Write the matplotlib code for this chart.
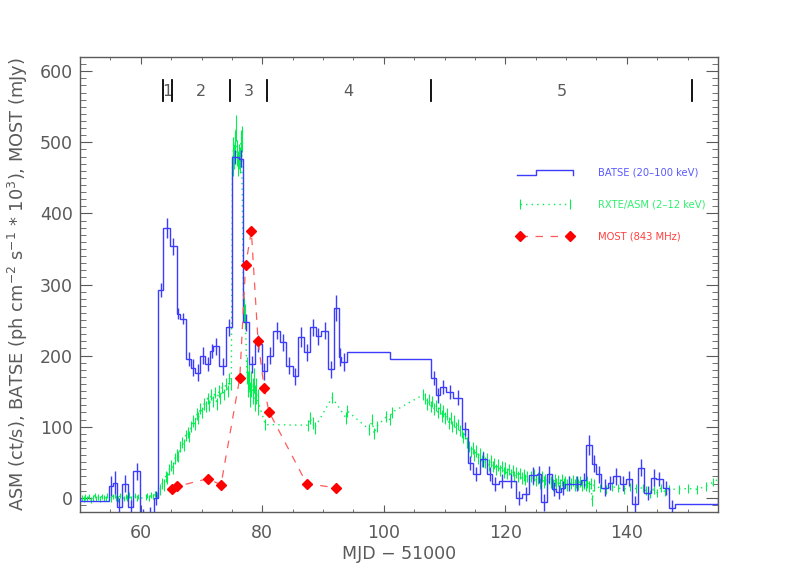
import numpy as np
import matplotlib
matplotlib.use("Agg")
import matplotlib.pyplot as plt
from matplotlib.lines import Line2D
from matplotlib.legend_handler import HandlerBase

# ----------------------------
# Data
# ----------------------------
# BATSE (20-100 keV) histogram: bin edges (MJD-51000), flux, 1-sigma error
batse_edges = [50.0, 54.8, 55.5, 56.1, 56.9, 57.95, 58.8, 59.9, 61.0, 62.2, 62.9,
               63.7, 64.8, 65.9, 66.5, 67.5, 68.3, 69.0, 69.8, 70.6, 71.4, 71.9,
               72.9, 74.1, 74.95, 76.2, 76.9, 77.8, 78.8, 79.9, 80.8, 81.8, 82.9,
               83.9, 85.0, 85.9, 86.9, 87.9, 88.8, 89.7, 90.8, 91.8, 92.6, 93.0,
               93.9, 101.0, 107.8, 108.6, 109.2, 110.3, 111.4, 112.9, 113.9, 114.6,
               115.8, 117.0, 117.8, 118.9, 120.1, 121.8, 122.8, 123.9, 125.2, 125.9,
               126.9, 127.6, 128.4, 129.1, 129.9, 131.1, 132.5, 133.3, 134.2, 134.9,
               135.8, 136.9, 137.7, 138.8, 139.9, 140.9, 141.8, 142.9, 144.0, 144.8,
               145.9, 146.9, 147.9, 155.0]
batse_flux = [-5, 16, 21, -13, 20, -13, 37, -28, -25, 0,
              292, 379, 354, 259, 252, 195, 183, 176, 200, 188,
              207, 213, 185, 240, 479, 477, 247, 188, 217, 178,
              200, 235, 219, 186, 171, 226, 205, 240, 227, 235,
              181, 267, 198, 191, 205, 195, 169, 144, 156, 149,
              141, 97, 49, 33, 54, 33, 19, 24, 24, 0,
              5, 32, 33, -6, 33, 12, 8, 14, 20, 20,
              25, 74, 48, 33, 14, 21, 30, 20, 27, -9,
              42, 7, 28, 26, 14, -15, -9]
batse_err = [0, 14, 16, 12, 12, 10, 12, 12, 12, 10,
             10, 14, 12, 8, 8, 10, 12, 12, 12, 10,
             10, 12, 12, 12, 10, 12, 12, 12, 12, 12,
             12, 12, 12, 12, 12, 14, 12, 12, 12, 12,
             12, 18, 12, 12, 0, 0, 10, 10, 10, 10,
             10, 10, 10, 10, 10, 10, 10, 10, 10, 10,
             10, 12, 12, 12, 12, 10, 10, 10, 10, 10,
             10, 14, 12, 12, 12, 10, 12, 10, 10, 12,
             12, 10, 12, 10, 10, 12, 0]

# RXTE/ASM (2-12 keV): quiet, rise, flare, sparse, decay, tail
asm_t_quiet = [50.0, 50.3, 50.6, 50.9, 51.2, 51.5, 51.8, 52.1, 52.4, 52.7, 53.0, 53.3,
               53.6, 53.9, 54.2, 54.5, 54.8, 55.1, 55.4, 55.7, 56.0, 56.3, 56.6, 56.9,
               57.2, 57.5, 57.8, 58.1, 58.4, 58.7, 59.0, 59.3, 59.6, 59.9, 60.8, 61.1,
               61.4, 61.7, 62.0, 62.3, 62.6]
asm_r_quiet = [-3, 0, -2, 1, -1, 2, -3, 0, 3, -1, 1, -2,
               2, 0, -1, 3, 1, -2, 2, 4, 0, -2, 3, 1,
               -1, 2, 0, 4, -2, 1, 3, 0, 2, -1, 1, 3,
               0, 4, 2, 5, 3]
asm_t_rise = [62.9, 63.2, 63.5, 63.8, 64.1, 64.4, 64.7, 65.0, 65.3, 65.6, 65.9, 66.2,
              66.5, 66.8, 67.1, 67.4, 67.7, 68.0, 68.3, 68.6, 68.9, 69.2, 69.5, 69.8,
              70.1, 70.4, 70.7, 71.0, 71.3, 71.6, 71.9, 72.2, 72.5, 72.8, 73.1, 73.4,
              73.7, 74.0, 74.3, 74.6, 74.9]
asm_r_rise = [8, 12, 20, 18, 30, 28, 40, 45, 42, 55, 60, 58,
              72, 78, 74, 88, 92, 86, 100, 108, 104, 118, 112, 126,
              120, 132, 128, 140, 130, 145, 135, 148, 132, 150, 140, 155,
              145, 160, 150, 168, 160]
asm_t_flare = [75.1, 75.25, 75.4, 75.55, 75.7, 75.85, 76.0, 76.15, 76.3, 76.45, 76.6,
               76.9, 77.05, 77.2, 77.45, 77.6, 77.8, 78.0, 78.2, 78.4, 78.6, 78.8,
               79.0, 79.3]
asm_r_flare = [470, 490, 480, 500, 520, 485, 470, 480, 475, 500, 505,
               275, 265, 255, 180, 160, 170, 145, 160, 150, 165, 140,
               150, 135]
asm_t_gap = [80.5, 87.6, 87.8, 88.3, 88.6, 91.5, 93.8, 94.0, 97.6, 98.1, 98.4, 98.8,
             100.4, 101.0, 101.3, 106.5]
asm_r_gap = [103, 102, 112, 105, 98, 141, 112, 122, 96, 110, 90, 100,
             114, 110, 120, 145]
asm_t_decay = [106.8, 107.1, 107.4, 107.7, 108.0, 108.3, 108.6, 108.9, 109.2, 109.5,
               109.8, 110.1, 110.4, 110.7, 111.0, 111.3, 111.6, 111.9, 112.2, 112.5,
               112.8, 113.1, 113.4, 113.7, 114.0, 114.3, 114.6, 114.9, 115.2, 115.5,
               115.8, 116.1, 116.4, 116.7, 117.0, 117.3, 117.6, 117.9, 118.2, 118.5,
               118.8, 119.1, 119.4, 119.7, 120.0, 120.3, 120.6, 120.9, 121.2, 121.5,
               121.8, 122.1, 122.4, 122.7, 123.0, 123.3, 123.6, 123.9, 124.2, 124.5,
               124.8, 125.1, 125.4, 125.7, 126.0, 126.3, 126.6, 126.9, 127.2, 127.5,
               127.8, 128.1, 128.4, 128.7, 129.0, 129.3, 129.6, 129.9, 130.2, 130.5,
               130.8, 131.1, 131.4, 131.7, 132.0, 132.3, 132.6, 132.9, 133.2, 133.5,
               133.8, 134.1, 134.3, 134.6]
asm_r_decay = [140, 132, 138, 128, 135, 125, 130, 120, 126, 115,
               122, 112, 118, 105, 112, 100, 108, 98, 103, 95,
               92, 85, 90, 78, 72, 65, 70, 60, 66, 55,
               62, 52, 58, 50, 55, 46, 52, 44, 48, 40,
               46, 38, 44, 36, 42, 34, 40, 33, 38, 30,
               36, 30, 34, 28, 32, 26, 30, 24, 30, 26,
               32, 24, 28, 20, 30, 22, 26, 20, 28, 22,
               18, 25, 20, 24, 19, 25, 20, 23, 18, 22,
               20, 24, 18, 22, 19, 23, 17, 21, 18, 22,
               16, 20, -4, 18]
asm_t_tail = [135.5, 136.5, 137.5, 138.5, 139.5, 140.5, 141.5, 142.6, 143.2, 143.8,
              144.4, 145.0, 145.6, 146.3, 147.0, 148.5, 150.0, 151.5, 153.0, 154.2, 155.0]
asm_r_tail = [14, 12, 16, 14, 12, 15, 13, 14, 10, 5,
              12, 7, 14, 8, 12, 12, 13, 12, 16, 22, 26]
# typical ASM error per segment
asm_seg_err = {"quiet": 4, "rise": 8, "flare": 18, "gap": 8, "decay": 8, "tail": 6}

# MOST (843 MHz)
most_t = [65.08, 66.0, 71.1, 73.2, 76.3, 77.25, 78.2, 79.3, 80.3, 81.1, 87.3, 92.1]
most_f = [12, 16, 27, 18, 169, 327, 375, 221, 155, 121, 20, 14]

# outburst phases
phase_edges = [63.65, 65.07, 74.75, 80.76, 107.7, 150.8]
phase_names = ["1", "2", "3", "4", "5"]

BLUE = "#3c3cff"
GREEN = "#00f050"
RED = "#ff0000"
GREY = "#5a5a5a"


class StepHandler(HandlerBase):
    """Legend glyph: a small histogram step."""
    def create_artists(self, legend, orig_handle, xdescent, ydescent,
                       width, height, fontsize, trans):
        x0 = -xdescent
        x1 = x0 + width
        xm = x0 + 0.34 * width
        yb = -ydescent + 0.1 * height
        yt = -ydescent + 0.85 * height
        ln = Line2D([x0, xm, xm, x1, x1], [yb, yb, yt, yt, yb],
                    color=orig_handle.get_color(), lw=1.0, transform=trans)
        return [ln]


def main():
    asm_t = (asm_t_quiet + asm_t_rise + asm_t_flare + asm_t_gap +
             asm_t_decay + asm_t_tail)
    asm_r = (asm_r_quiet + asm_r_rise + asm_r_flare + asm_r_gap +
             asm_r_decay + asm_r_tail)
    asm_e = ([asm_seg_err["quiet"]] * len(asm_t_quiet) +
             [asm_seg_err["rise"]] * len(asm_t_rise) +
             [asm_seg_err["flare"]] * len(asm_t_flare) +
             [asm_seg_err["gap"]] * len(asm_t_gap) +
             [asm_seg_err["decay"]] * len(asm_t_decay) +
             [asm_seg_err["tail"]] * len(asm_t_tail))

    edges = np.asarray(batse_edges)
    centers = 0.5 * (edges[:-1] + edges[1:])

    fig = plt.figure(figsize=(7.98, 5.70), dpi=100)
    ax = fig.add_axes([80 / 798, 1 - 512 / 570, 638 / 798, 455 / 570])

    # ASM
    asm = ax.errorbar(asm_t, asm_r, yerr=asm_e, color=GREEN, ls=(0, (1, 3)),
                      lw=1.0, elinewidth=0.8, capsize=0, zorder=2)

    # BATSE
    ax.stairs(batse_flux, edges, color=BLUE, lw=1.0, zorder=3)
    ax.errorbar(centers, batse_flux, yerr=batse_err, fmt="none",
                ecolor=BLUE, elinewidth=1.0, capsize=0, zorder=3)
    batse_proxy = Line2D([], [], color=BLUE)

    # MOST
    most, = ax.plot(most_t, most_f, color="#ff5a5a", ls=(0, (6, 6)), lw=0.9,
                    marker="D", ms=5, mfc=RED, mec=RED, zorder=4)

    # phase markers
    for x in phase_edges:
        ax.plot([x, x], [558, 588], color="black", lw=1.3, zorder=5)
    for i, name in enumerate(phase_names):
        xm = 0.5 * (phase_edges[i] + phase_edges[i + 1])
        ax.text(xm, 571, name, ha="center", va="center", fontsize=11.5, color=GREY)

    ax.set_xlim(50, 155)
    ax.set_ylim(-20, 620)
    ax.set_xticks([60, 80, 100, 120, 140])
    ax.set_xticks(np.arange(50, 156, 5), minor=True)
    ax.set_yticks([0, 100, 200, 300, 400, 500, 600])
    ax.set_yticks(np.arange(-20, 621, 10), minor=True)

    for sp in ax.spines.values():
        sp.set_color(GREY)
        sp.set_linewidth(1.0)
    ax.tick_params(axis="both", which="both", direction="in", top=True,
                   right=True, color=GREY, labelcolor=GREY, labelsize=12.5)
    ax.tick_params(axis="x", which="major", length=5, pad=9)
    ax.tick_params(axis="x", which="minor", length=2.5)
    ax.tick_params(axis="y", which="major", length=8.5, pad=5)
    ax.tick_params(axis="y", which="minor", length=4.2)

    ax.set_xlabel("MJD \u2212 51000", fontsize=12.5, color=GREY)
    ax.xaxis.set_label_coords(0.5, -0.073)
    ax.set_ylabel(r"ASM (ct/s), BATSE (ph cm$^{-2}$ s$^{-1}$ * 10$^{3}$), MOST (mJy)",
                  fontsize=12.8, color=GREY)
    ax.yaxis.set_label_coords(-0.078, 0.5)

    ax.legend([batse_proxy, asm, most],
              ["BATSE (20\u2013100 keV)", "RXTE/ASM (2\u201312 keV)", "MOST (843 MHz)"],
              handler_map={batse_proxy: StepHandler()},
              loc="upper left", bbox_to_anchor=(0.685, 0.757),
              frameon=False, fontsize=7.2, handlelength=5.6,
              handletextpad=2.5, labelspacing=2.2, numpoints=2,
              borderpad=0, borderaxespad=0,
              labelcolor=["#5a5aff", "#30f070", "#ff4040"])

    fig.savefig("out.png", dpi=100)


if __name__ == "__main__":
    main()
